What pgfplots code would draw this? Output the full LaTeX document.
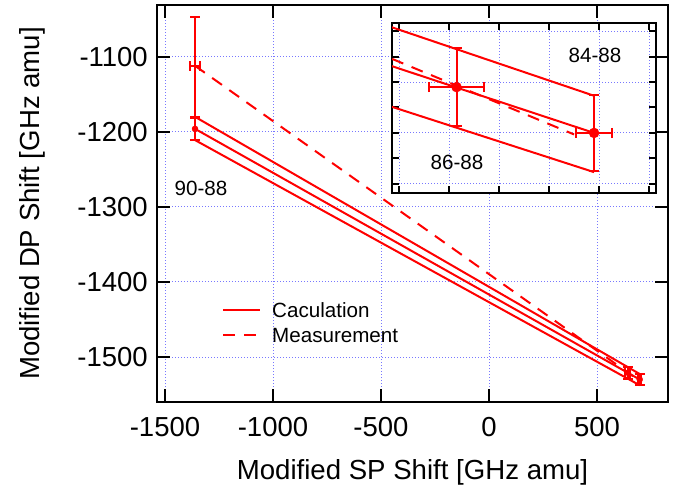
\documentclass[border=0pt]{standalone}
\usepackage{fontspec}
\setmainfont{Liberation Sans}
\usepackage{pgfplots}
\usepackage{pgfplotstable}
\pgfplotsset{compat=1.18}

\definecolor{gridblue}{RGB}{120,120,255}

% King plot lines (fit with upper / lower bound)
\pgfplotstableread{
x y
-1361 -1180
698 -1522.7
}\calctop
\pgfplotstableread{
x y
-1361 -1196
698 -1530
}\calcmid
\pgfplotstableread{
x y
-1361 -1211
698 -1537.7
}\calcbot
\pgfplotstableread{
x y
-1361 -1112
690 -1530.3
}\meas
% isotope pairs 86-88, 84-88
\pgfplotstableread{
x y ex ey
643 -1521 11 7.7
698 -1530 7.2 7.5
}\pairs
% 90-88
\pgfplotstableread{
x y ey
-1361 -1196 15.5
}\calcninety
\pgfplotstableread{
x y ex eyp eym
-1361 -1112 23 65 69
}\measninety

\pgfplotsset{
  kp/.style={
    scale only axis,
    axis line style={line width=2pt},
    tick align=inside,
    tick style={black, line width=2pt},
    grid=major,
    grid style={gridblue, line width=0.9pt, dash pattern=on 1pt off 2pt},
    /pgf/number format/assume math mode=true,
    /pgf/number format/set thousands separator={},
  },
  calc/.style={red, line width=2pt, mark=none},
  measl/.style={red, line width=2pt, mark=none, dash pattern=on 12pt off 9pt},
  errs/.style={red, only marks, mark=*, mark size=#1,
    mark options={fill=red, draw=red, solid},
    error bars/x dir=both, error bars/x explicit,
    error bars/y dir=both, error bars/y explicit,
    error bars/error bar style={red, line width=2pt, solid},
    error bars/error mark options={rotate=90, red, mark size=5pt, line width=2pt}},
}

\begin{document}
\begin{tikzpicture}
\begin{axis}[kp, name=main,
  width=511pt, height=397pt,
  xmin=-1537, xmax=829, ymin=-1560, ymax=-1031,
  xtick={-1500,-1000,...,500}, ytick={-1500,-1400,...,-1100},
  major tick length=13pt,
  tick label style={font=\fontsize{27.5}{33}\selectfont},
  xticklabel style={inner sep=0pt, anchor=north, yshift=-15pt},
  yticklabel style={inner sep=0pt, anchor=east, xshift=-9pt},
  xlabel={Modified SP Shift [GHz amu]},
  ylabel={Modified DP Shift [GHz amu]},
  label style={font=\fontsize{27.6}{33}\selectfont, inner sep=0pt},
  xlabel style={at={(axis description cs:0.5,-0.194)}, anchor=base},
  ylabel style={at={(axis description cs:-0.229,0.5)}, anchor=base},
  legend style={at={(0.1272,0.2519)}, anchor=north west, draw=none, fill=none,
    inner sep=0pt, row sep=10pt, font=\fontsize{20.6}{24}\selectfont,
    nodes={inner sep=0pt, text height=15pt, text depth=0pt},
    /tikz/every odd column/.append style={column sep=11pt}},
  legend cell align=left,
  legend image code/.code={\draw[#1] (0pt,0pt) -- (37pt,0pt);},
]
\addplot[calc] table {\calctop};
\addplot[calc, forget plot] table {\calcmid};
\addplot[calc, forget plot] table {\calcbot};
\addplot[measl] table {\meas};
\addplot[forget plot, errs=3pt] table[x=x, y=y, x error=ex, y error=ey] {\pairs};
\addplot[forget plot, errs=3pt, error bars/x dir=none] table[x=x, y=y, y error=ey] {\calcninety};
\addplot[forget plot, errs=0pt] table[x=x, y=y, x error=ex, y error plus=eyp, y error minus=eym] {\measninety};
\legend{Caculation, Measurement}
\node[font=\fontsize{20.6}{24}\selectfont] at (axis cs:-1333,-1276) {90-88};
\end{axis}

\begin{axis}[kp, at={(235pt,209pt)}, anchor=south west,
  width=264pt, height=170pt,
  xmin=617.2, xmax=722.8, ymin=-1541.8, ymax=-1508.4,
  xtick={620,640,...,720}, ytick={-1540,-1530,-1520,-1510},
  minor ytick={-1535,-1525,-1515},
  xticklabels={}, yticklabels={},
  major tick length=7pt, minor tick length=7pt,
  minor tick style={black, line width=2pt},
  axis background/.style={fill=white},
]
\addplot[calc] table {\calctop};
\addplot[calc] table {\calcmid};
\addplot[calc] table {\calcbot};
\addplot[measl] table {\meas};
\addplot[errs=5pt] table[x=x, y=y, x error=ex, y error=ey] {\pairs};
\node[font=\fontsize{20.6}{24}\selectfont] at (axis cs:698.4,-1514.7) {84-88};
\node[font=\fontsize{20.6}{24}\selectfont] at (axis cs:643.2,-1535.7) {86-88};
\end{axis}
\pgfresetboundingbox
\useasboundingbox (-157pt,-87pt) rectangle (522pt,402pt);
\end{tikzpicture}
\end{document}
